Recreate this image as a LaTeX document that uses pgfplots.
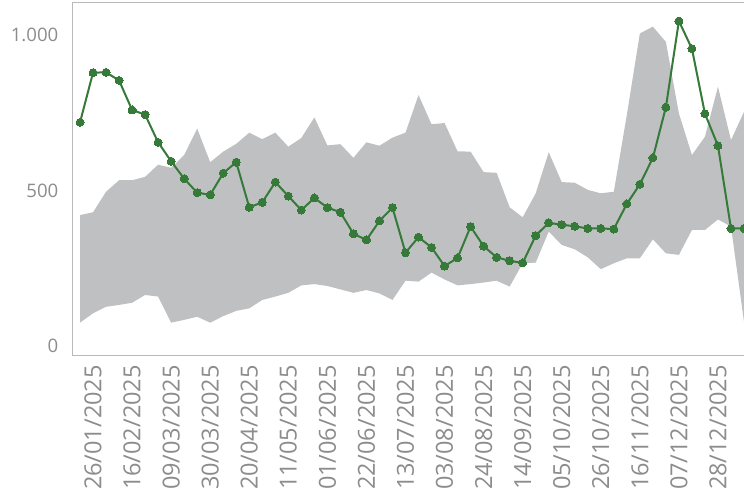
\documentclass[border=0pt]{standalone}
\usepackage{fontspec}
\setmainfont{Open Sans}
\usepackage{pgfplots}
\usepackage{pgfplotstable}
\pgfplotsset{compat=1.18}
\usepgfplotslibrary{fillbetween}

\definecolor{bandgray}{RGB}{191,192,194}
\definecolor{linegreen}{RGB}{53,122,56}
\definecolor{txtgray}{RGB}{140,140,140}
\definecolor{framegray}{RGB}{185,185,185}

% week index (0 = 19/01/2025), band top, band bottom, value
\pgfplotstableread{
i  up    lo   val
0  421   75   719
1  430   105  879
2  496   126  880
3  533   132  854
4  533   139  759
5  544   164  744
6  583   159  655
7  573   75   594
8  614   84   538
9  699   94   493
10 591   75   486
11 625   96   556
12 650   113  591
13 686   121  446
14 665   148  462
15 686   159  527
16 641   171  482
17 669   195  437
18 735   199  476
19 645   193  445
20 649   182  430
21 605   171  361
22 655   180  341
23 644   169  402
24 670   148  445
25 686   210  300
26 807   207  350
27 713   236  317
28 717   214  257
29 626   195  283
30 625   199  384
31 559   204  321
32 557   210  285
33 446   191  274
34 414   266  267
35 491   268  355
36 623   368  396
37 527   325  390
38 525   311  385
39 502   285  378
40 491   247  378
41 496   266  376
42 743   282  457
43 1005  282  520
44 1027  343  605
45 978   298  768
46 748   293  1045
47 614   373  956
48 673   373  747
49 834   407  644
50 662   384  378
51 753   78   378
}\weekly

\begin{document}
\begin{tikzpicture}
\begin{axis}[
    at={(0pt,0pt)}, anchor=south west,
    width=672.5pt, height=352pt,
    scale only axis,
    xmin=-0.538, xmax=51.115,
    ymin=-29, ymax=1103,
    axis line style={framegray, line width=1pt},
    major tick length=0pt,
    ytick={0,500,1000},
    yticklabels={0,500,1.000},
    xtick={1,4,...,49},
    xticklabels={26/01/2025,16/02/2025,09/03/2025,30/03/2025,20/04/2025,
        11/05/2025,01/06/2025,22/06/2025,13/07/2025,03/08/2025,24/08/2025,
        14/09/2025,05/10/2025,26/10/2025,16/11/2025,07/12/2025,28/12/2025},
    tick label style={text=txtgray},
    yticklabel style={font=\fontsize{18.6}{20}\selectfont,
        anchor=east, inner sep=0pt, xshift=-14.5pt},
    xticklabel style={font=\fontsize{23.5}{25}\selectfont,
        rotate=90, anchor=east, inner sep=0pt, xshift=-10pt},
]
\addplot[draw=none, name path=up, forget plot] table[x=i, y=up] {\weekly};
\addplot[draw=none, name path=lo, forget plot] table[x=i, y=lo] {\weekly};
\addplot[fill=bandgray, draw=none] fill between[of=up and lo];
\addplot[linegreen, line width=2pt, mark=*, mark size=4pt,
    mark options={fill=linegreen, draw=linegreen, line width=0pt}]
    table[x=i, y=val] {\weekly};
\end{axis}
\pgfresetboundingbox
\useasboundingbox (-73pt,-146pt) rectangle (671pt,355pt);
\end{tikzpicture}
\end{document}
